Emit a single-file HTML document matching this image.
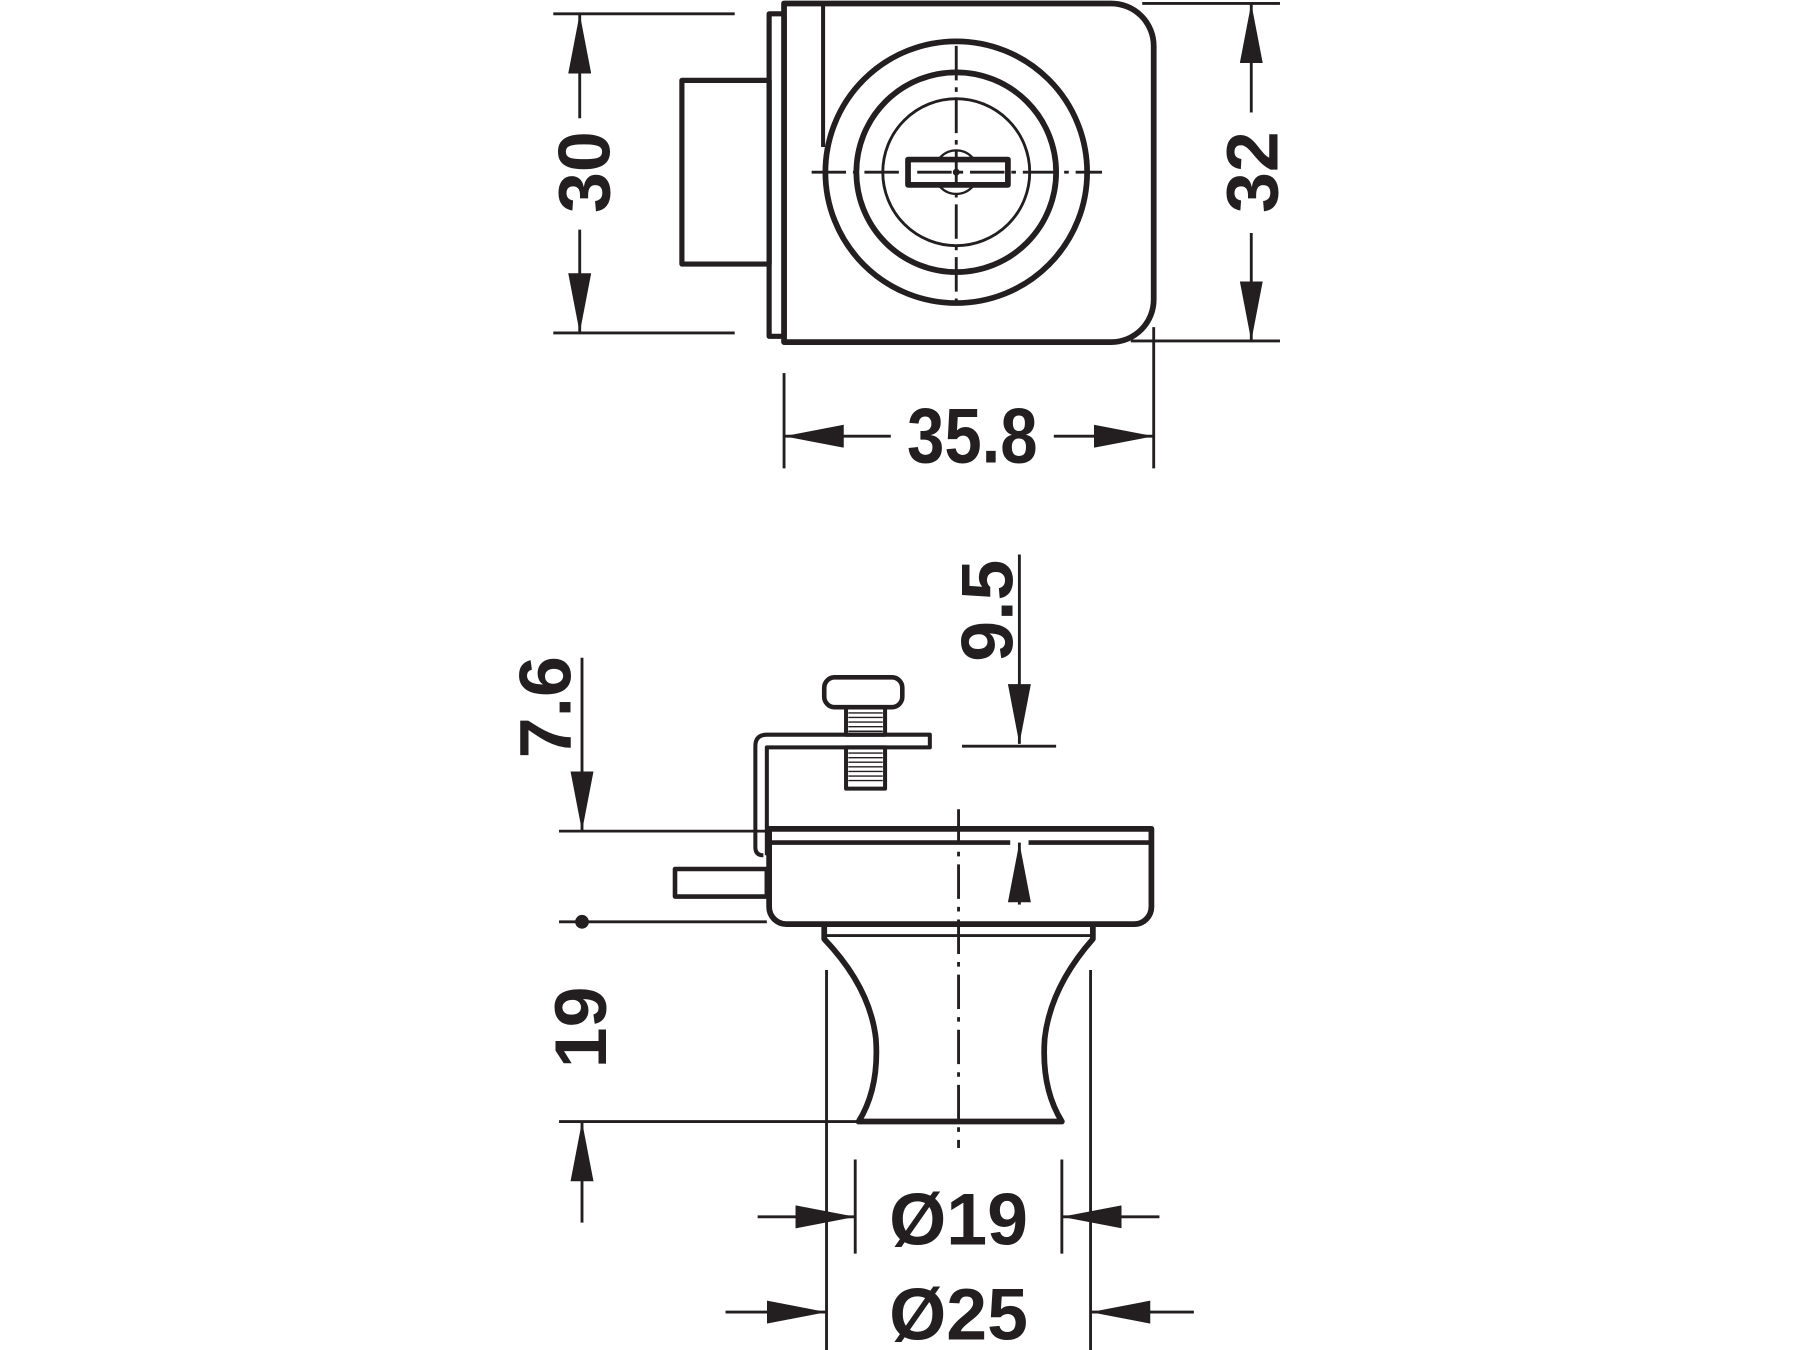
<!DOCTYPE html>
<html><head><meta charset="utf-8"><style>
html,body{margin:0;padding:0;background:#fff;}
svg{display:block;}
text{font-family:"Liberation Sans",sans-serif;font-weight:bold;fill:#231f20;}
</style></head><body>
<svg width="1800" height="1350" viewBox="0 0 1568 1176" xmlns="http://www.w3.org/2000/svg">
<defs>
<marker id="a" viewBox="0 0 52 20" refX="52" refY="10" markerWidth="52" markerHeight="20" markerUnits="userSpaceOnUse" orient="auto"><path d="M0,0 L52,10 L0,20 Z" fill="#231f20"/></marker>
</defs>
<rect width="1568" height="1176" fill="#fff"/>
<g stroke="#231f20" fill="none" stroke-linejoin="round">
<!-- TOP VIEW -->
<line x1="482" y1="12" x2="640" y2="12" stroke-width="2.5"/>
<line x1="482" y1="290" x2="640" y2="290" stroke-width="2.5"/>
<line x1="505" y1="103" x2="505" y2="12" stroke-width="2.5" marker-end="url(#a)"/>
<line x1="505" y1="200" x2="505" y2="290" stroke-width="2.5" marker-end="url(#a)"/>
<rect x="670" y="12" width="13" height="281" stroke-width="4.5"/>
<path d="M683,3 L968,3 A37,37 0 0 1 1005,40 L1005,261 A37,37 0 0 1 968,298 L683,298 Z" stroke-width="5"/>
<line x1="717" y1="3" x2="717" y2="128" stroke-width="3.5"/>
<rect x="594" y="70" width="76" height="160" stroke-width="4.5"/>
<circle cx="833" cy="150" r="114" stroke-width="5"/>
<circle cx="833" cy="150" r="87" stroke-width="5"/>
<circle cx="833" cy="150" r="64" stroke-width="2.5"/>
<circle cx="833" cy="150" r="19" stroke-width="2"/>
<rect x="791" y="139" width="87" height="22" stroke-width="5" fill="#fff"/>
<line x1="707" y1="150" x2="960" y2="150" stroke-width="2.5" stroke-dasharray="30,6,4,6"/>
<line x1="833" y1="40" x2="833" y2="262" stroke-width="2.5" stroke-dasharray="30,6,4,6"/>
<circle cx="833" cy="150" r="2.5" fill="#231f20"/>
<line x1="995" y1="3" x2="1115" y2="3" stroke-width="2.5"/>
<line x1="985" y1="297" x2="1115" y2="297" stroke-width="2.5"/>
<line x1="1090" y1="98" x2="1090" y2="3" stroke-width="2.5" marker-end="url(#a)"/>
<line x1="1090" y1="203" x2="1090" y2="297" stroke-width="2.5" marker-end="url(#a)"/>
<line x1="683" y1="325" x2="683" y2="408" stroke-width="2.5"/>
<line x1="1005" y1="285" x2="1005" y2="408" stroke-width="2.5"/>
<line x1="776" y1="380" x2="683" y2="380" stroke-width="2.5" marker-end="url(#a)"/>
<line x1="918" y1="380" x2="1005" y2="380" stroke-width="2.5" marker-end="url(#a)"/>

<!-- BOTTOM VIEW -->
<line x1="888" y1="483" x2="888" y2="648" stroke-width="2.5" marker-end="url(#a)"/>
<line x1="838" y1="650" x2="920" y2="650" stroke-width="2.5"/>
<line x1="507" y1="573" x2="507" y2="724" stroke-width="2.5" marker-end="url(#a)"/>
<line x1="487" y1="724" x2="670" y2="724" stroke-width="2.5"/>
<path d="M670,722 L1003,722 L1003,790 A15,15 0 0 1 988,805 L685,805 A15,15 0 0 1 670,790 Z" stroke-width="5"/>
<line x1="670" y1="734" x2="880" y2="734" stroke-width="4"/>
<line x1="896" y1="734" x2="1003" y2="734" stroke-width="4"/>
<path d="M665,745 Q658,745 658,738 L658,650 Q658,640 668,640 L810,640 L810,651 L668,651 L668,745" stroke-width="3.5"/>
<rect x="718" y="590" width="68" height="26" rx="9" stroke-width="4"/>
<rect x="737" y="616" width="34" height="24" stroke-width="3.5"/>
<rect x="737" y="651" width="34" height="36" stroke-width="3.5"/>
<g stroke-width="1.2">
<line x1="739" y1="621" x2="769" y2="621"/><line x1="739" y1="625" x2="769" y2="625"/><line x1="739" y1="629" x2="769" y2="629"/><line x1="739" y1="633" x2="769" y2="633"/><line x1="739" y1="637" x2="769" y2="637"/>
<line x1="739" y1="656" x2="769" y2="656"/><line x1="739" y1="660" x2="769" y2="660"/><line x1="739" y1="664" x2="769" y2="664"/><line x1="739" y1="668" x2="769" y2="668"/><line x1="739" y1="672" x2="769" y2="672"/><line x1="739" y1="676" x2="769" y2="676"/><line x1="739" y1="680" x2="769" y2="680"/>
</g>
<rect x="588" y="757" width="80" height="24" stroke-width="4"/>
<line x1="888" y1="788" x2="888" y2="734" stroke-width="2.5" marker-end="url(#a)"/>
<circle cx="507" cy="803" r="6" fill="#231f20" stroke="none"/>
<line x1="487" y1="803" x2="668" y2="803" stroke-width="2.5"/>
<path d="M718,805 L718,818 Q758,860 763,905 Q766,948 748,977 L925,977 Q907,948 910,905 Q915,860 952,818 L952,805" stroke-width="5"/>
<line x1="720" y1="815" x2="950" y2="815" stroke-width="2.5"/>
<line x1="835" y1="705" x2="835" y2="1000" stroke-width="2.5" stroke-dasharray="30,7,4,7"/>
<line x1="487" y1="977" x2="748" y2="977" stroke-width="2.5"/>
<line x1="507" y1="1065" x2="507" y2="977" stroke-width="2.5" marker-end="url(#a)"/>
<line x1="720" y1="845" x2="720" y2="1176" stroke-width="2.5"/>
<line x1="950" y1="845" x2="950" y2="1176" stroke-width="2.5"/>
<line x1="745" y1="1010" x2="745" y2="1092" stroke-width="2.5"/>
<line x1="925" y1="1010" x2="925" y2="1092" stroke-width="2.5"/>
<line x1="660" y1="1060" x2="745" y2="1060" stroke-width="2.5" marker-end="url(#a)"/>
<line x1="1010" y1="1060" x2="925" y2="1060" stroke-width="2.5" marker-end="url(#a)"/>
<line x1="632" y1="1143" x2="720" y2="1143" stroke-width="2.5" marker-end="url(#a)"/>
<line x1="1040" y1="1143" x2="950" y2="1143" stroke-width="2.5" marker-end="url(#a)"/>
</g>
<g font-size="64">
<text transform="translate(531,150) rotate(-90)" text-anchor="middle">30</text>
<text transform="translate(1113,150) rotate(-90)" text-anchor="middle">32</text>
<text text-anchor="middle" font-size="68" transform="translate(847,403) scale(0.86,1)">35.8</text>
<text transform="translate(882,532) rotate(-90)" text-anchor="middle">9.5</text>
<text transform="translate(497,616) rotate(-90)" text-anchor="middle">7.6</text>
<text transform="translate(528,895) rotate(-90)" text-anchor="middle">19</text>
<text x="835" y="1084" text-anchor="middle">Ø19</text>
<text x="835" y="1167" text-anchor="middle">Ø25</text>
</g>
</svg>
</body></html>
